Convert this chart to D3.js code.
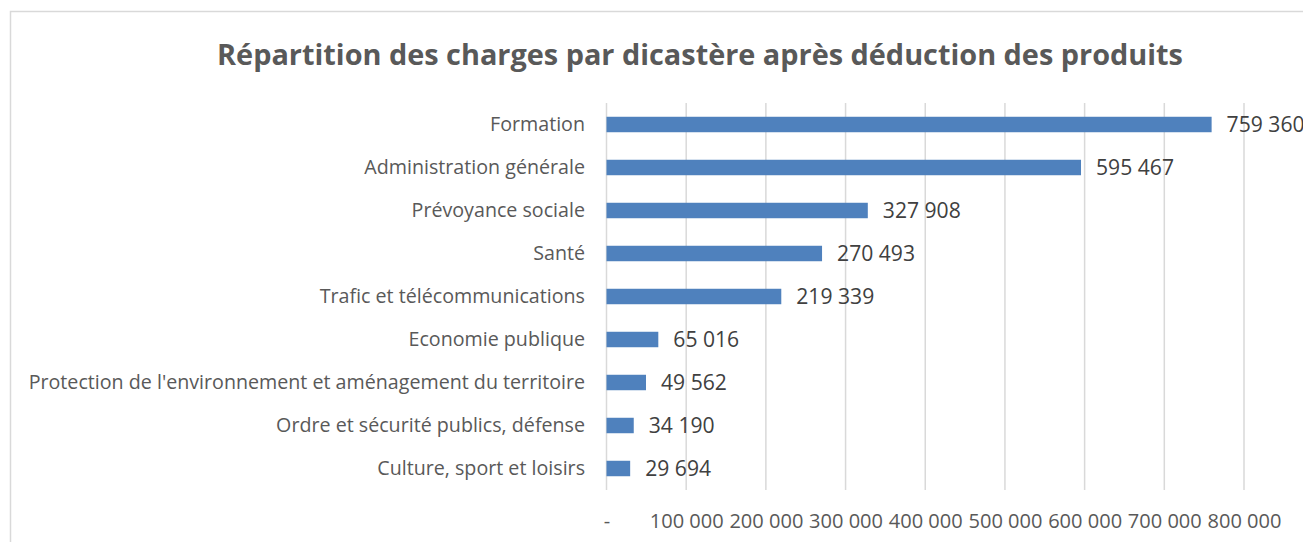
<!DOCTYPE html>
<html><head><meta charset="utf-8">
<script src="https://cdn.jsdelivr.net/npm/d3@7"></script>
<style>html,body{margin:0;padding:0;background:#fff;overflow:hidden}</style>
</head><body>
<svg id="c" width="1303" height="542"></svg>
<script>
const categories = ["Formation","Administration générale","Prévoyance sociale","Santé","Trafic et télécommunications","Economie publique","Protection de l'environnement et aménagement du territoire","Ordre et sécurité publics, défense","Culture, sport et loisirs"];
const values = [759360,595467,327908,270493,219339,65016,49562,34190,29694];
const tickValues = [0,100000,200000,300000,400000,500000,600000,700000,800000];
const tickLabels = ["-","100 000","200 000","300 000","400 000","500 000","600 000","700 000","800 000"];
const title = "Répartition des charges par dicastère après déduction des produits";

const svg = d3.select("#c");
const FONT = "'Liberation Sans Narrow','Open Sans',sans-serif";

// frame
svg.append("rect").attr("x",10.5).attr("y",11.5).attr("width",1400).attr("height",600)
  .attr("fill","#fff").attr("stroke","#d9d9d9").attr("stroke-width",1.5);

const x = d3.scaleLinear().domain([0,800000]).range([606.5,1244]);
const y = d3.scaleBand().domain(categories).range([103,490]).paddingInner(0.64).paddingOuter(0.32);

function fit(sel, target){
  const w = sel.node().getComputedTextLength();
  const fs = parseFloat(sel.attr("font-size"));
  sel.attr("font-size", fs*target/w);
}

// gridlines
svg.append("g").selectAll("line").data(tickValues).join("line")
  .attr("x1",d=>x(d)).attr("x2",d=>x(d)).attr("y1",103).attr("y2",490)
  .attr("stroke","#d9d9d9").attr("stroke-width",1.5);

// axis
const axis = d3.axisBottom(x).tickValues(tickValues).tickFormat((d,i)=>tickLabels[i]).tickSize(0).tickPadding(0);
const ag = svg.append("g").attr("transform","translate(0,528)").call(axis);
ag.select(".domain").remove();
ag.selectAll("text").attr("font-family",FONT).attr("font-size",17).attr("fill","#595959").attr("dy",0);
{
  const t = ag.selectAll("text").filter((d,i)=>i===1);
  const w = t.node().getComputedTextLength();
  ag.selectAll("text").attr("font-size",17*74/w);
}

// bars
svg.append("g").selectAll("rect").data(values).join("rect")
  .attr("x",x(0)).attr("y",(d,i)=>y(categories[i]))
  .attr("width",d=>x(d)-x(0)).attr("height",y.bandwidth())
  .attr("fill","#4f81bd");

// category labels
const cl = svg.append("g").selectAll("text").data(categories).join("text")
  .attr("x",585).attr("y",d=>y(d)+y.bandwidth()/2+6.5)
  .attr("text-anchor","end").attr("font-family",FONT).attr("font-size",18)
  .attr("fill","#595959").text(d=>d);
{
  const n = cl.filter((d,i)=>i===6).node();
  const w = n.getComputedTextLength();
  cl.attr("font-size",18*557/w);
}

// value labels
const fmt = v => d3.format(",")(v).replace(/,/g," ");
const vl = svg.append("g").selectAll("text").data(values).join("text")
  .attr("x",d=>x(d)+15).attr("y",(d,i)=>y(categories[i])+y.bandwidth()/2+7)
  .attr("font-family",FONT).attr("font-size",18).attr("fill","#404040").text(fmt);
{
  const n = vl.filter((d,i)=>i===1).node();
  const w = n.getComputedTextLength();
  vl.attr("font-size",18*78/w);
}

// title
const tt = svg.append("text").attr("x",700).attr("y",65).attr("text-anchor","middle")
  .attr("font-family","'Open Sans','Liberation Sans',sans-serif").attr("font-weight","bold")
  .attr("font-size",27).attr("fill","#595959").text(title);
fit(tt,966);
</script>
</body></html>
